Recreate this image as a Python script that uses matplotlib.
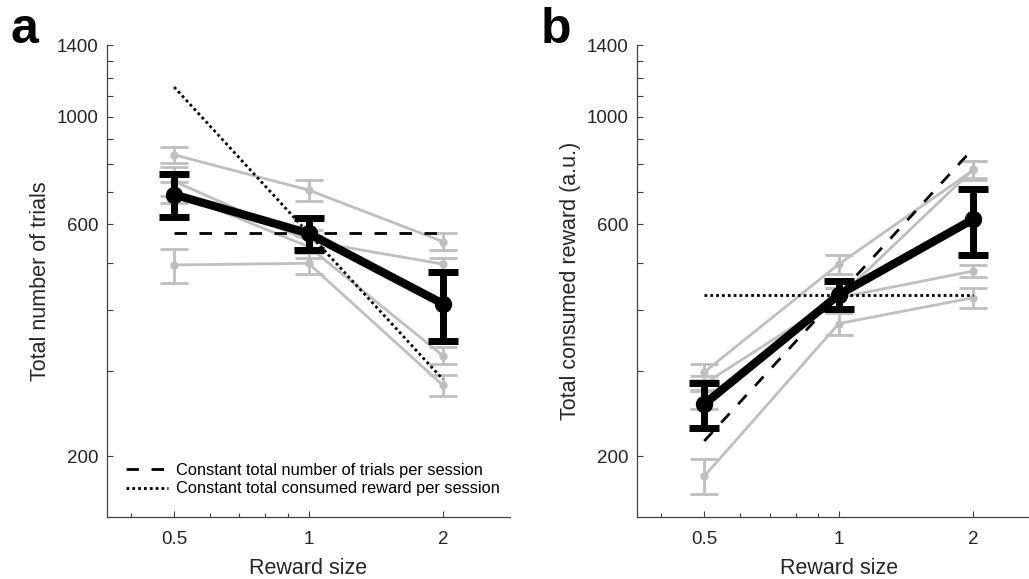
import matplotlib
matplotlib.use("Agg")
import matplotlib.pyplot as plt
from matplotlib.ticker import FixedLocator, NullFormatter, FixedFormatter

plt.rcParams['font.family'] = ['Liberation Sans', 'DejaVu Sans']

# reward sizes
reward_size = [0.5, 1, 2]

# panel a: total number of trials, one row per animal
trials_subj = [[834, 706, 553],
               [736, 555, 497],
               [699, 540, 322],
               [495, 499, 280]]
trials_subj_err = [[30, 36, 22],
                   [50, 30, 15],
                   [35, 28, 13],
                   [40, 25, 14]]
trials_mean = [691, 575, 412]
trials_sem = [70, 44, 66]

# panel b: total consumed reward (a.u.)
reward_subj = [[298, 497, 776],
               [282, 424, 779],
               [262, 424, 481],
               [182, 375, 424]]
reward_subj_err = [[11, 23, 35],
                   [10, 20, 30],
                   [12, 20, 13],
                   [15, 19, 20]]
reward_mean = [256, 430, 615]
reward_sem = [27, 28, 95]

# reference lines (end points at 0.5 and 2)
ref_x = [0.5, 2]
a_const_trials = [575, 575]
a_const_reward = [1150, 288]
b_const_trials = [215, 860]
b_const_reward = [430, 430]

GREY = '#bfbfbf'
AXC = '#404040'

y_major = [200, 600, 1000, 1400]
y_all = [200, 300, 400, 500, 600, 700, 800, 900, 1000, 1100, 1200, 1300, 1400]
x_minor = [0.4, 0.6, 0.7, 0.8, 0.9]


def style_axes(ax, xmax):
    ax.set_xscale('log')
    ax.set_yscale('log')
    ax.set_xlim(0.5 / 2 ** 0.5, xmax)
    ax.set_ylim(150, 1400)
    for s in ['top', 'right']:
        ax.spines[s].set_visible(False)
    for s in ['left', 'bottom']:
        ax.spines[s].set_color(AXC)
        ax.spines[s].set_linewidth(0.9)
    ax.xaxis.set_major_locator(FixedLocator(reward_size))
    ax.xaxis.set_major_formatter(FixedFormatter(['0.5', '1', '2']))
    ax.xaxis.set_minor_locator(FixedLocator(x_minor))
    ax.xaxis.set_minor_formatter(NullFormatter())
    ax.yaxis.set_major_locator(FixedLocator(y_all))
    ax.yaxis.set_major_formatter(FixedFormatter(
        [str(v) if v in y_major else '' for v in y_all]))
    ax.yaxis.set_minor_locator(FixedLocator([]))
    ax.tick_params(which='both', direction='in', color=AXC, width=0.8,
                   labelsize=13.5, labelcolor='#262626')
    ax.tick_params(which='major', length=4)
    ax.tick_params(axis='y', pad=6)
    ax.tick_params(axis='x', pad=10)
    ax.tick_params(which='minor', length=3)
    ax.set_xlabel('Reward size', fontsize=15.5, color='#262626', labelpad=7)


def draw_panel(ax, subj, subj_err, mean, sem, dashed_y, dotted_y):
    for vals, errs in zip(subj, subj_err):
        ax.errorbar(reward_size, vals, yerr=errs, fmt='-o', color=GREY,
                    lw=2, ms=5, capsize=10, capthick=2, elinewidth=2, zorder=2)
    ax.plot(ref_x, dashed_y, color='black', lw=2, dashes=(4.5, 4.5), zorder=3,
            label='Constant total number of trials per session')
    ax.plot(ref_x, dotted_y, color='black', lw=2, dashes=(1, 1.1), zorder=3,
            label='Constant total consumed reward per session')
    ax.errorbar(reward_size, mean, yerr=sem, fmt='-o', color='black',
                lw=6, ms=11.5, capsize=11, capthick=5, elinewidth=5, zorder=4)


fig = plt.figure(figsize=(10.29, 5.79), dpi=100)
ax_a = fig.add_axes([107 / 1029, 62 / 579, 403 / 1029, 471.5 / 579])
ax_b = fig.add_axes([637 / 1029, 62 / 579, 391 / 1029, 471.5 / 579])

draw_panel(ax_a, trials_subj, trials_subj_err, trials_mean, trials_sem,
           a_const_trials, a_const_reward)
draw_panel(ax_b, reward_subj, reward_subj_err, reward_mean, reward_sem,
           b_const_trials, b_const_reward)

style_axes(ax_a, 2 * 2 ** 0.5)
style_axes(ax_b, 2.65)
ax_b.xaxis.label.set_x(0.516)

ax_a.set_ylabel('Total number of trials', fontsize=15.5, color='#262626', labelpad=4)
ax_b.set_ylabel('Total consumed reward (a.u.)', fontsize=15.5, color='#262626', labelpad=4)

ax_a.legend(loc='lower left', bbox_to_anchor=(0.03, 0.03), frameon=False,
            fontsize=11.8, handlelength=2.6, handletextpad=0.5, labelspacing=0.2,
            borderaxespad=0)

fig.text(10 / 1029, 1 - 43 / 579, 'a', fontsize=36, fontweight='bold', va='baseline')
fig.text(541 / 1029, 1 - 43 / 579, 'b', fontsize=36, fontweight='bold', va='baseline')

fig.savefig('out.png', dpi=100)
